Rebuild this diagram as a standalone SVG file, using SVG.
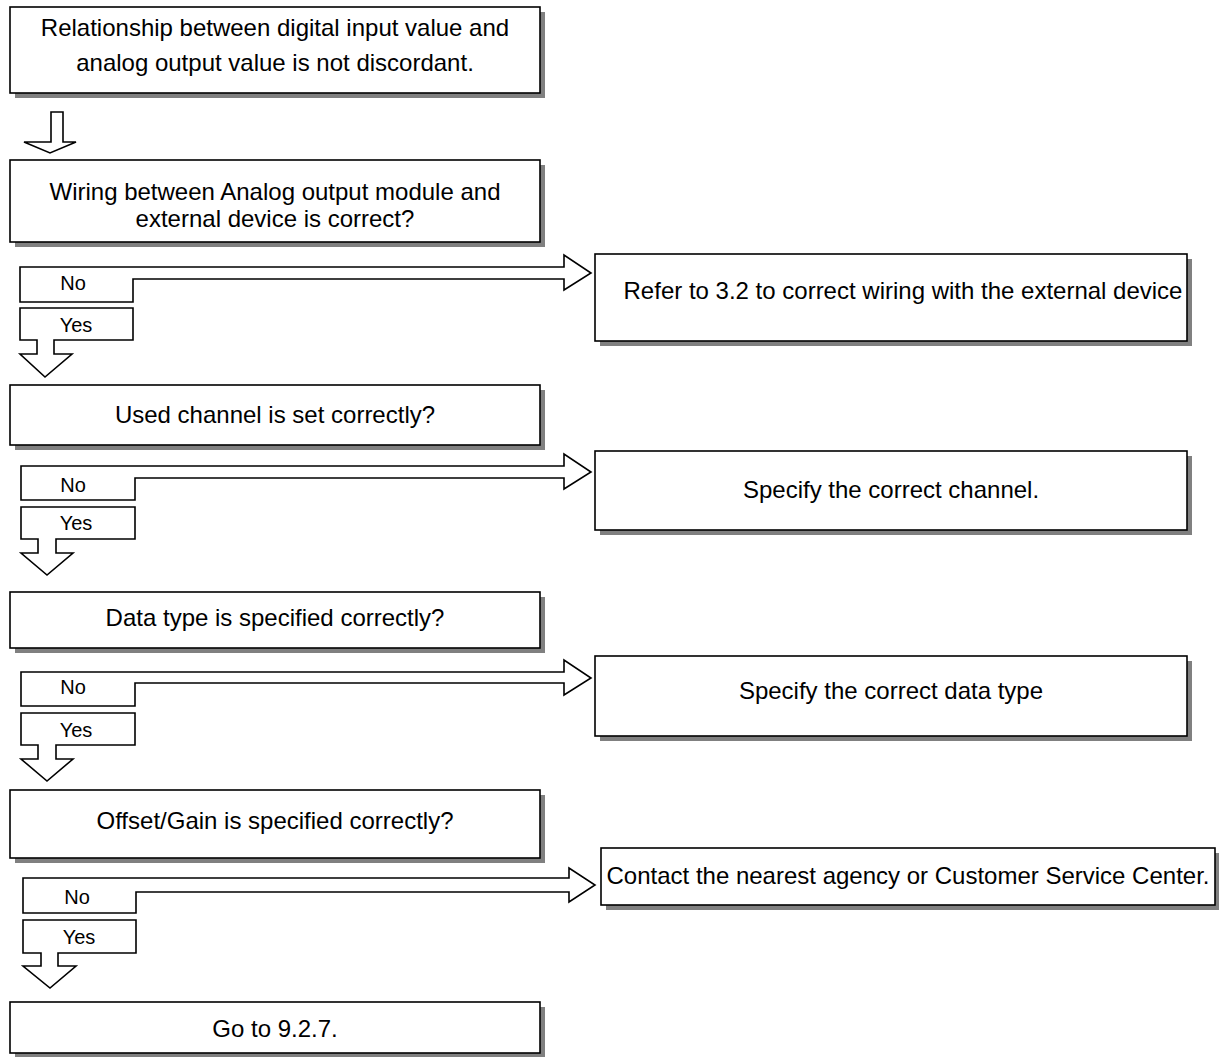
<svg xmlns="http://www.w3.org/2000/svg" width="1219" height="1057" viewBox="0 0 1219 1057">
<style>
.box{fill:#fff;stroke:#000;stroke-width:1.6}
.sh{fill:#808080}
.arr{fill:#fff;stroke:#000;stroke-width:1.6;stroke-linejoin:miter}
text{font-family:"Liberation Sans",Arial,sans-serif;font-size:24px;fill:#000;text-anchor:middle}
.lb{font-size:20px}
</style>
<rect width="1219" height="1057" fill="#fff"/>
<g id="n1">
<rect class="sh" x="15" y="12" width="530" height="86"/>
<rect class="box" x="10" y="7" width="530" height="86"/>
<text x="275" y="36">Relationship between digital input value and</text>
<text x="275" y="71">analog output value is not discordant.</text>
</g>
<g id="n2">
<rect class="sh" x="15" y="165" width="530" height="82"/>
<rect class="box" x="10" y="160" width="530" height="82"/>
<text x="275" y="200">Wiring between Analog output module and</text>
<text x="275" y="227">external device is correct?</text>
</g>
<g id="n3">
<rect class="sh" x="600" y="259" width="592" height="87"/>
<rect class="box" x="595" y="254" width="592" height="87"/>
<text x="903" y="299">Refer to 3.2 to correct wiring with the external device</text>
</g>
<g id="n4">
<rect class="sh" x="15" y="390" width="530" height="60"/>
<rect class="box" x="10" y="385" width="530" height="60"/>
<text x="275" y="423">Used channel is set correctly?</text>
</g>
<g id="n5">
<rect class="sh" x="600" y="456" width="592" height="79"/>
<rect class="box" x="595" y="451" width="592" height="79"/>
<text x="891" y="498">Specify the correct channel.</text>
</g>
<g id="n6">
<rect class="sh" x="15" y="597" width="530" height="56"/>
<rect class="box" x="10" y="592" width="530" height="56"/>
<text x="275" y="626">Data type is specified correctly?</text>
</g>
<g id="n7">
<rect class="sh" x="600" y="661" width="592" height="80"/>
<rect class="box" x="595" y="656" width="592" height="80"/>
<text x="891" y="699">Specify the correct data type</text>
</g>
<g id="n8">
<rect class="sh" x="15" y="795" width="530" height="68"/>
<rect class="box" x="10" y="790" width="530" height="68"/>
<text x="275" y="829">Offset/Gain is specified correctly?</text>
</g>
<g id="n9">
<rect class="sh" x="606" y="853" width="614" height="57"/>
<rect class="box" x="601" y="848" width="614" height="57"/>
<text x="908" y="884">Contact the nearest agency or Customer Service Center.</text>
</g>
<g id="n10">
<rect class="sh" x="15" y="1007" width="530" height="51"/>
<rect class="box" x="10" y="1002" width="530" height="51"/>
<text x="275" y="1037">Go to 9.2.7.</text>
</g>
<g id="connectors">
<polygon class="arr" points="51,112 63,112 63,142 76,142 50,153 24,142 51,142"/>
<polygon class="arr" points="20,267 564,267 564,255 591,273 564,290 564,279 133,279 133,302 20,302"/>
<polygon class="arr" points="20,308 133,308 133,340 54,340 54,354 72,354 45,377 20,354 37,354 37,340 20,340"/>
<polygon class="arr" points="21,466 564,466 564,454 591,472 564,489 564,478 135,478 135,500 21,500"/>
<polygon class="arr" points="21,507 135,507 135,539 56,539 56,553 73,553 47,575 21,553 38,553 38,539 21,539"/>
<polygon class="arr" points="21,672 564,672 564,660 591,678 564,695 564,683 135,683 135,706 21,706"/>
<polygon class="arr" points="21,713 135,713 135,745 56,745 56,759 73,759 47,781 21,759 38,759 38,745 21,745"/>
<polygon class="arr" points="23,878 569,878 569,868 595,885 569,902 569,892 136,892 136,913 23,913"/>
<polygon class="arr" points="23,920 136,920 136,953 58,953 58,966 76,966 50,988 23,966 41,966 41,953 23,953"/>
<text class="lb" x="73" y="290">No</text>
<text class="lb" x="76" y="332">Yes</text>
<text class="lb" x="73" y="492">No</text>
<text class="lb" x="76" y="530">Yes</text>
<text class="lb" x="73" y="694">No</text>
<text class="lb" x="76" y="737">Yes</text>
<text class="lb" x="77" y="904">No</text>
<text class="lb" x="79" y="944">Yes</text>
</g>
</svg>
